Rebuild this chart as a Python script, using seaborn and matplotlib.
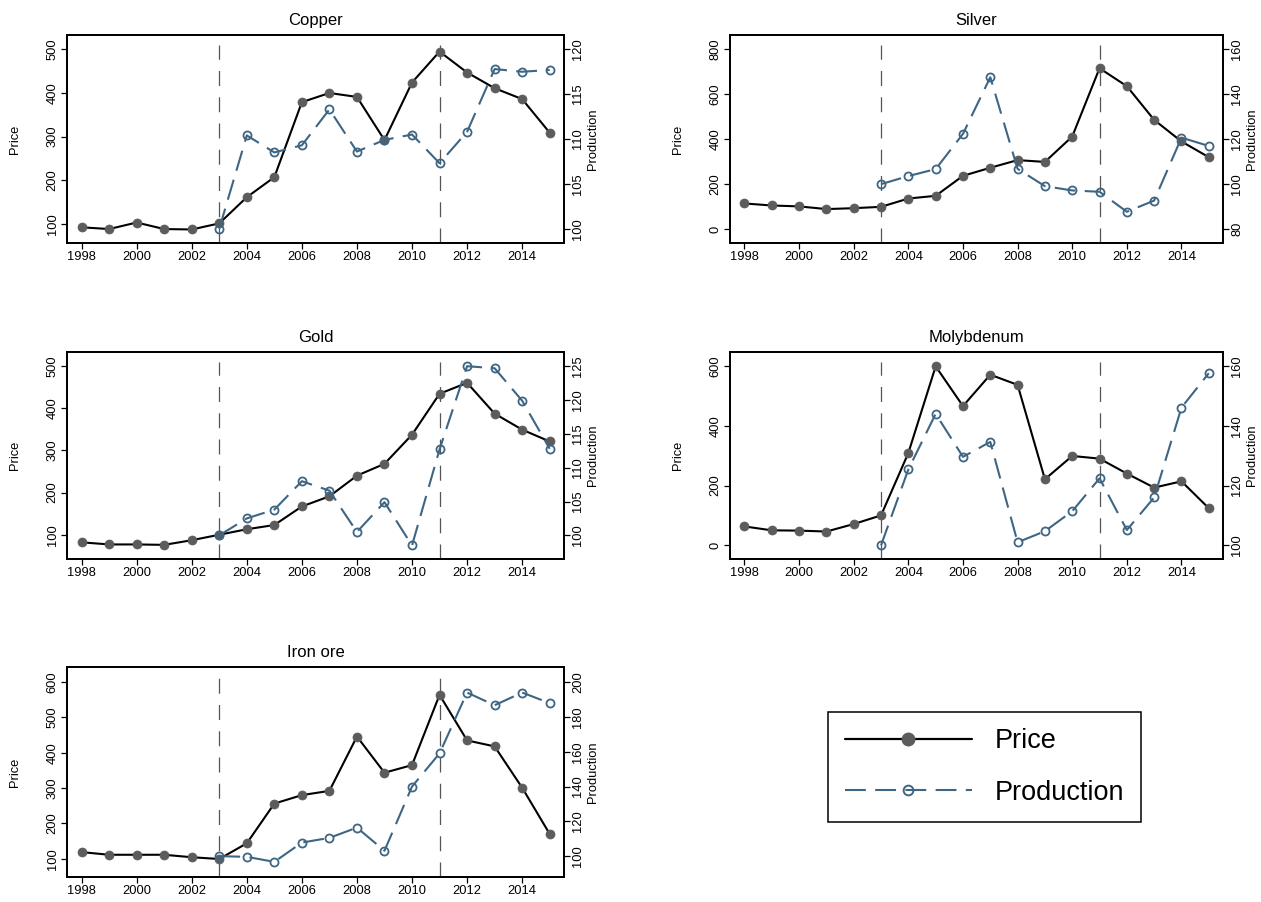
import matplotlib
matplotlib.use("Agg")
import matplotlib.pyplot as plt
from matplotlib.lines import Line2D
import seaborn as sns
import pandas as pd

# ---------------- data ----------------
years = list(range(1998, 2016))
prod_years = list(range(2003, 2016))
event_years = [2003, 2011]
commodities = ["Copper", "Silver", "Gold", "Molybdenum", "Iron ore"]

copper_price = [92, 88, 103, 88, 87, 101, 161, 207, 379, 400, 391, 292, 424, 495, 447, 411, 386, 309]
copper_prod = [100.0, 110.4, 108.5, 109.3, 113.3, 108.6, 109.9, 110.5, 107.3, 110.8, 117.8, 117.5, 117.7]

silver_price = [114, 105, 101, 89, 93, 99, 136, 148, 237, 273, 307, 299, 412, 716, 636, 486, 390, 320]
silver_prod = [100.0, 103.6, 106.7, 122.4, 147.6, 106.8, 99.1, 97.2, 96.6, 87.7, 92.7, 120.7, 117.0]

gold_price = [82, 77, 77, 76, 87, 100, 113, 123, 167, 191, 240, 268, 337, 434, 460, 387, 349, 321]
gold_prod = [100.0, 102.5, 103.8, 108.0, 106.6, 100.5, 104.9, 98.5, 112.7, 125.0, 124.7, 119.9, 112.8]

moly_price = [63, 50, 49, 46, 71, 100, 309, 599, 466, 571, 537, 221, 299, 290, 240, 193, 214, 124]
moly_prod = [100.0, 125.4, 144.0, 129.6, 134.6, 101.0, 104.7, 111.4, 122.4, 105.1, 116.0, 146.1, 157.6]

iron_price = [118.5, 111, 111, 111, 104, 99, 143.5, 256, 280, 292, 446, 343.5, 365, 564, 435, 418, 301, 170]
iron_prod = [100.0, 99.6, 96.7, 107.8, 110.5, 116.4, 103.1, 140.0, 159.1, 194.1, 186.8, 194.1, 188.0]

price_series = {"Copper": copper_price, "Silver": silver_price, "Gold": gold_price,
                "Molybdenum": moly_price, "Iron ore": iron_price}
prod_series = {"Copper": copper_prod, "Silver": silver_prod, "Gold": gold_prod,
               "Molybdenum": moly_prod, "Iron ore": iron_prod}

x_ticks = list(range(1998, 2015, 2))
price_ticks = {"Copper": [100, 200, 300, 400, 500], "Silver": [0, 200, 400, 600, 800],
               "Gold": [100, 200, 300, 400, 500], "Molybdenum": [0, 200, 400, 600],
               "Iron ore": [100, 200, 300, 400, 500, 600]}
prod_ticks = {"Copper": [100, 105, 110, 115, 120], "Silver": [80, 100, 120, 140, 160],
              "Gold": [100, 105, 110, 115, 120, 125], "Molybdenum": [100, 120, 140, 160],
              "Iron ore": [100, 120, 140, 160, 180, 200]}

# ---------------- layout / style ----------------
price_lim = {"Copper": (56, 533), "Silver": (-62, 864), "Gold": (42.5, 533),
             "Molybdenum": (-46, 647), "Iron ore": (48, 643)}
prod_lim = {"Copper": (98.4, 121.6), "Silver": (73.8, 166.4), "Gold": (96.5, 127.1),
            "Molybdenum": (95.4, 164.7), "Iron ore": (88, 208.8)}

W, H = 1261, 902
def rect(l, t, r, b):
    return [l / W, 1 - b / H, (r - l) / W, (b - t) / H]

axes_rects = {
    "Copper": rect(67, 35, 564, 243),
    "Silver": rect(730, 35, 1223, 243),
    "Gold": rect(67, 352, 564, 559),
    "Molybdenum": rect(730, 352, 1223, 559),
    "Iron ore": rect(67, 667, 564, 877),
}

sns.set_style("ticks")
plt.rcParams["font.family"] = ["Liberation Sans", "DejaVu Sans"]
plt.rcParams["axes.linewidth"] = 1.3
plt.rcParams["text.color"] = "black"
plt.rcParams["axes.labelcolor"] = "black"
plt.rcParams["axes.titlecolor"] = "black"
plt.rcParams["xtick.color"] = "black"
plt.rcParams["ytick.color"] = "black"

GREY = "#5c5c5c"
BLUE = "#3e6683"
VLINE = "#555555"
TICK_FS = 9.3
PROD_DASH = (0, (10, 4.5))

fig = plt.figure(figsize=(W / 100, H / 100), dpi=100)

for name in commodities:
    ax = fig.add_axes(axes_rects[name])
    dfp = pd.DataFrame({"year": years, "value": price_series[name]})
    dfq = pd.DataFrame({"year": prod_years, "value": prod_series[name]})

    for ey in event_years:
        ax.axvline(ey, ymin=0, ymax=0.952, color=VLINE, lw=0.9,
                   linestyle=(0, (12, 9)), zorder=1)

    sns.lineplot(data=dfp, x="year", y="value", ax=ax, color="black", lw=1.5,
                 marker="o", markersize=6.5, markerfacecolor=GREY,
                 markeredgecolor=GREY, markeredgewidth=0.5, zorder=3)
    ax.set_xlim(1997.47, 2015.52)
    ax.set_ylim(*price_lim[name])
    ax.set_xticks(x_ticks)
    ax.set_xticklabels([str(y) for y in x_ticks])
    ax.set_yticks(price_ticks[name])
    ax.set_yticklabels([str(v) for v in price_ticks[name]])
    ax.set_xlabel("")
    ax.set_ylabel("Price", fontsize=TICK_FS, color="black")
    ax.yaxis.set_label_coords(-0.093, 0.5)
    ax.set_title(name, fontsize=12, pad=7, color="black")
    ax.tick_params(axis="both", direction="out", length=4, width=0.9,
                   labelsize=TICK_FS, colors="black", pad=2)
    for lab in ax.get_yticklabels():
        lab.set_rotation(90)
        lab.set_va("center")

    ax2 = ax.twinx()
    sns.lineplot(data=dfq, x="year", y="value", ax=ax2, color=BLUE, lw=1.5,
                 linestyle=PROD_DASH, marker="o", markersize=5.8,
                 markerfacecolor="none", markeredgecolor=BLUE,
                 markeredgewidth=1.3, zorder=4)
    ax2.set_ylim(*prod_lim[name])
    ax2.set_yticks(prod_ticks[name])
    ax2.set_yticklabels([str(v) for v in prod_ticks[name]])
    ax2.set_ylabel("Production", fontsize=TICK_FS, color="black")
    ax2.yaxis.set_label_coords(1.046, 0.5)
    ax2.tick_params(axis="y", direction="out", length=4, width=0.9,
                    labelsize=TICK_FS, colors="black", pad=2)
    for lab in ax2.get_yticklabels():
        lab.set_rotation(90)
        lab.set_va("center")
    for a in (ax, ax2):
        for sp in a.spines.values():
            sp.set_visible(True)
            sp.set_color("black")
            sp.set_linewidth(1.3)

handles = [
    Line2D([0], [0], color="black", lw=1.6, marker="o", markersize=9,
           markerfacecolor=GREY, markeredgecolor=GREY),
    Line2D([0], [0], color=BLUE, lw=1.5, linestyle=PROD_DASH, marker="o",
           markersize=7, markerfacecolor="none", markeredgecolor=BLUE,
           markeredgewidth=1.4),
]
leg = fig.legend(handles, ["Price", "Production"], loc="center",
                 bbox_to_anchor=((828 + 1141) / 2 / W, 1 - (712 + 822) / 2 / H),
                 fontsize=19.5, handlelength=4.7, handletextpad=0.85,
                 borderpad=0.6, labelspacing=0.95, numpoints=1,
                 fancybox=False, frameon=True, borderaxespad=0)
leg.get_frame().set_edgecolor("black")
leg.get_frame().set_linewidth(1.1)
leg.get_frame().set_alpha(1)
for t in leg.get_texts():
    t.set_color("black")

fig.savefig("out.png", dpi=100)
